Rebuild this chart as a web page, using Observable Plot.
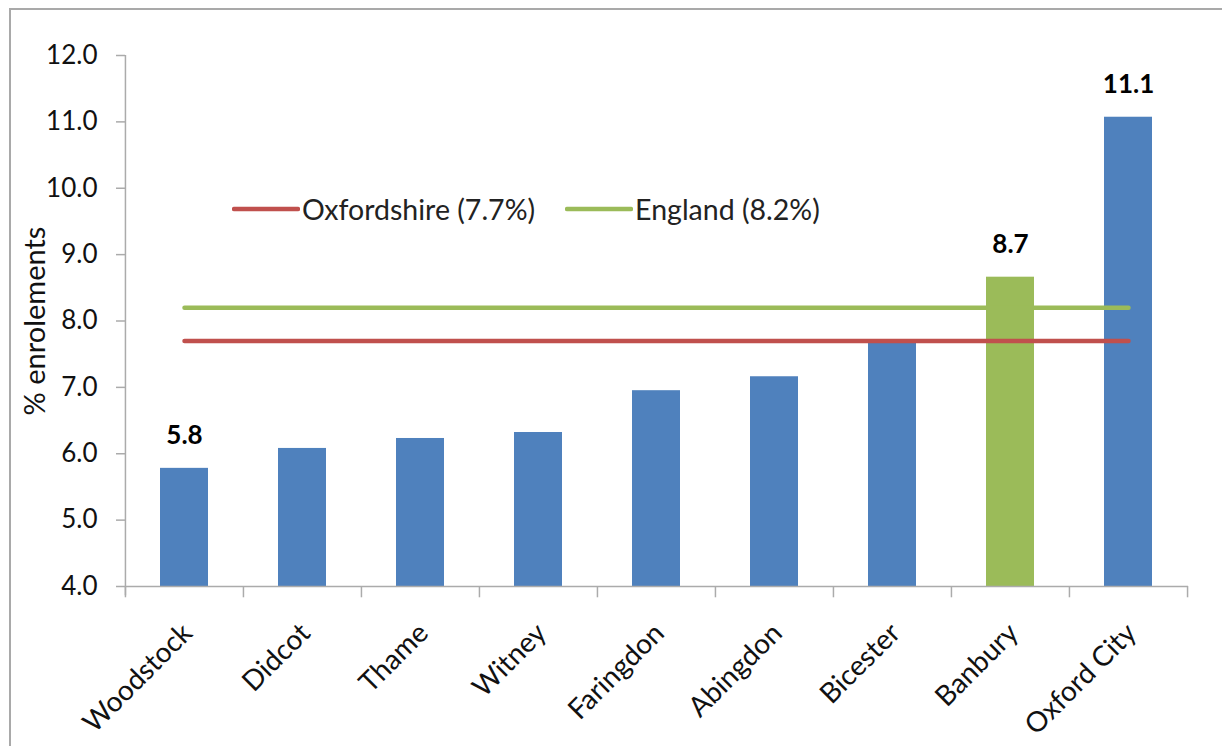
<!DOCTYPE html>
<html>
<head>
<meta charset="utf-8">
<script src="https://cdn.jsdelivr.net/npm/d3@7"></script>
<script src="https://cdn.jsdelivr.net/npm/@observablehq/plot@0.6"></script>
<style>
  html, body { margin: 0; padding: 0; background: #fff; overflow: hidden; }
  #wrap { position: relative; width: 1222px; height: 746px; font-family: Lato, "Open Sans", sans-serif; }
  #frame { position: absolute; left: 9px; top: 8px; width: 1300px; height: 800px; border: 2.5px solid #a9a9a9; pointer-events: none; box-sizing: border-box; }
  #legend { position: absolute; top: 192px; left: 232px; display: flex; align-items: center; font-size: 28.5px; color: #222; white-space: nowrap; }
  .item { display: flex; align-items: center; }
  .item svg { margin-right: 2px; }
</style>
</head>
<body>
<div id="wrap">
  <div id="chart"></div>
  <div id="legend"></div>
  <div id="frame"></div>
</div>
<script>
// ---- data ----
const towns = ["Woodstock", "Didcot", "Thame", "Witney", "Faringdon", "Abingdon", "Bicester", "Banbury", "Oxford City"];
const values = [5.78, 6.08, 6.23, 6.32, 6.95, 7.16, 7.68, 8.66, 11.07];
const labelledTowns = ["Woodstock", "Banbury", "Oxford City"];
const highlightTown = "Banbury";
const refNames = ["Oxfordshire (7.7%)", "England (8.2%)"];
const refValues = [7.7, 8.2];
const yTicks = [4, 5, 6, 7, 8, 9, 10, 11, 12];
const yLabel = "% enrolements";

// ---- styles ----
const blue = "#4F81BD", green = "#9BBB59", red = "#C0504D", axisGray = "#ababab";
const refColors = [red, green];

const W = 1222, H = 746, mL = 125, mR = 34, mT = 55, mB = 160;
const step = (W - mL - mR) / towns.length;

const rows = towns.map((t, i) => ({town: t, value: values[i]}));
const refRows = refNames.flatMap((n, i) => [
  {name: n, town: towns[0], v: refValues[i]},
  {name: n, town: towns[towns.length - 1], v: refValues[i]}
]);

const chart = Plot.plot({
  width: W, height: H,
  marginLeft: mL, marginRight: mR, marginTop: mT, marginBottom: mB,
  style: {fontFamily: "Lato, 'Open Sans', sans-serif", fontSize: "26px", color: "#111", background: "transparent", overflow: "visible"},
  x: {domain: towns, paddingInner: 0.59, paddingOuter: 0.295, axis: null},
  y: {domain: [4, 12], axis: null},
  color: {domain: refNames, range: refColors},
  marks: [
    Plot.barY(rows, {x: "town", y1: 4, y2: "value", fill: d => d.town === highlightTown ? green : blue}),
    Plot.ruleY([4], {stroke: axisGray, strokeWidth: 1.5}),
    Plot.ruleX([towns[0]], {x: d => d, y1: 12, y2: 3.86, dx: -step / 2, stroke: axisGray, strokeWidth: 1.5}),
    Plot.ruleX(towns, {x: d => d, y1: 4, y2: 3.83, dx: -step / 2, stroke: axisGray, strokeWidth: 1.5}),
    Plot.ruleX([towns[towns.length - 1]], {x: d => d, y1: 4, y2: 3.83, dx: step / 2, stroke: axisGray, strokeWidth: 1.5}),
    Plot.axisY({ticks: yTicks, tickFormat: d => d.toFixed(1), tickSize: 9, tickPadding: 19, stroke: axisGray, strokeWidth: 1.5,
      label: null, fontSize: 26}),
    Plot.axisY({ticks: [], tickSize: 0, label: yLabel, labelAnchor: "center", labelArrow: "none", labelOffset: 101, fontSize: 29}),
    Plot.axisX({tickRotate: -45, tickSize: 0, tickPadding: 27, label: null, fontSize: 28, dx: 3, dy: 15}),
    Plot.line(refRows, {x: "town", y: "v", z: "name", stroke: "name", strokeWidth: 4.5, strokeLinecap: "round"}),
    Plot.text(rows.filter(d => labelledTowns.includes(d.town)), {
      x: "town", y: "value", text: d => d.value.toFixed(1), dy: -24, lineAnchor: "bottom",
      fontWeight: "bold", fontSize: 26, fill: "#000"
    })
  ]
});
document.getElementById("chart").appendChild(chart);

// legend (inside plot area, HTML overlay)
const legend = document.getElementById("legend");
refNames.forEach((n, i) => {
  const item = document.createElement("div");
  item.className = "item";
  if (i > 0) item.style.marginLeft = "30px";
  item.innerHTML = `<svg width="68" height="8"><line x1="2" y1="4" x2="66" y2="4" stroke="${refColors[i]}" stroke-width="4.5" stroke-linecap="round"/></svg><span>${n}</span>`;
  legend.appendChild(item);
});
</script>
</body>
</html>
